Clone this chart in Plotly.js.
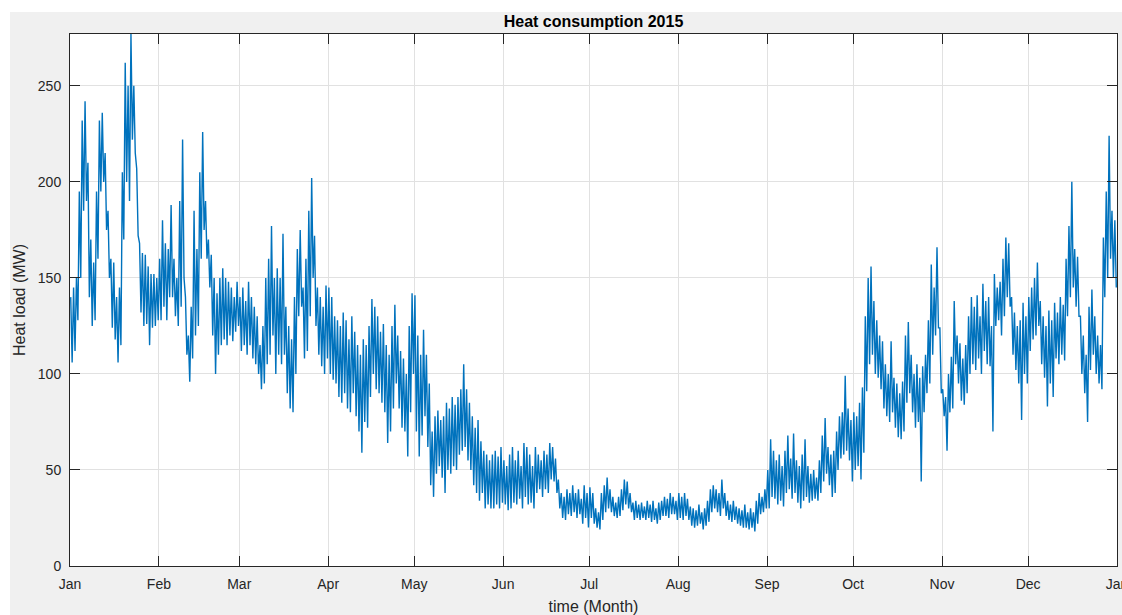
<!DOCTYPE html>
<html>
<head>
<meta charset="utf-8">
<script src="https://cdn.plot.ly/plotly-3.0.1.min.js"></script>
<style>
  html, body { margin: 0; padding: 0; background: #ffffff; width: 1122px; height: 615px; overflow: hidden; }
  #chart { position: absolute; left: 10px; top: 12px; width: 1112px; height: 603px; }
</style>
</head>
<body>
<div id="chart"></div>
<script>
// Heat load (MW), two readings per day (daily high, daily low)
var jan = [140,106, 145,112, 150,128, 195,150, 232,185, 242,190, 210,140, 170,125, 158,128, 195,160,
           232,195, 236,200, 215,175, 185,150, 160,124, 158,118, 140,106, 145,115, 205,170, 262,200,
           250,190, 277,222, 250,215, 207,172, 168,132, 163,125, 162,126, 156,115, 152,124, 152,125, 150,128];
var feb = [160,128, 180,135, 168,128, 165,140, 188,140, 160,130, 150,125, 190,135, 222,150, 140,110,
           120,96, 135,108, 185,120, 165,125, 205,160, 226,175, 190,160, 170,145, 162,120, 150,100,
           142,110, 150,115, 155,118, 150,115, 148,120, 145,117, 140,122, 148,125];
var mar = [140,112, 145,115, 138,110, 148,115, 140,108, 135,105, 130,100, 115,92, 125,95, 150,105,
           160,110, 177,120, 150,100, 155,110, 150,105, 173,110, 135,90, 125,82, 118,80, 140,100,
           165,130, 175,135, 145,108, 160,112, 185,130, 202,150, 172,125, 145,110, 140,104, 135,100, 146,108];
var apr = [145,100, 140,97, 130,95, 128,88, 125,85, 132,90, 128,82, 118,80, 130,90, 122,78,
           115,70, 110,59, 118,75, 115,72, 125,88, 139,100, 135,92, 130,90, 122,85, 126,80,
           115,64, 110,70, 125,82, 136,95, 120,82, 112,72, 108,70, 100,57, 125,80, 142,100];
var may = [141,70, 120,57, 110,68, 123,78, 110,62, 95,42, 70,36, 78,48, 81,52, 76,46,
           78,38, 85,50, 82,48, 88,52, 84,50, 88,58, 92,60, 105,62, 92,55, 85,50,
           78,42, 72,38, 76,34, 65,38, 60,30, 58,32, 55,30, 58,30, 60,32, 57,30, 62,33];
var jun = [55,32, 52,29, 58,30, 62,33, 55,32, 60,35, 52,30, 64,36, 62,32, 58,33,
           52,30, 62,38, 58,40, 55,36, 60,40, 58,38, 64,45, 62,44, 56,38, 45,30,
           38,25, 36,24, 40,27, 38,26, 42,28, 38,25, 40,27, 35,22, 42,25, 38,20];
var jul = [41,25, 38,22, 30,20, 28,19, 38,24, 42,28, 46,30, 40,28, 36,26, 33,25,
           36,26, 40,29, 45,32, 44,30, 38,28, 33,24, 34,25, 32,24, 33,25, 31,24,
           34,25, 32,23, 34,24, 30,22, 33,24, 34,26, 36,26, 35,25, 38,27, 36,27, 34,24];
var aug = [38,25, 36,24, 38,26, 35,24, 31,21, 30,20, 29,21, 32,22, 28,19, 30,21,
           34,23, 40,28, 42,30, 40,28, 38,26, 45,30, 38,26, 34,24, 32,23, 34,24,
           31,22, 30,21, 29,20, 32,20, 28,19, 30,20, 28,18, 34,22, 38,27, 36,28, 40,30];
var sep = [50,30, 66,36, 60,35, 55,32, 58,34, 52,31, 60,38, 68,40, 56,35, 69,38,
           55,33, 52,30, 58,34, 66,36, 52,33, 48,34, 50,35, 46,34, 55,38, 68,44,
           77,48, 62,42, 58,36, 60,38, 70,50, 78,56, 80,58, 99,60, 82,55, 76,44];
var oct = [80,50, 78,52, 85,45, 93,59, 130,91, 150,105, 156,110, 138,100, 128,98, 120,92,
           117,82, 105,78, 100,75, 117,80, 98,72, 95,67, 90,66, 96,70, 120,85, 127,90,
           110,80, 100,72, 105,75, 98,44, 104,80, 110,90, 128,95, 157,110, 145,120, 166,124, 124,90];
var nov = [92,78, 88,60, 100,80, 109,82, 138,105, 120,95, 116,86, 108,84, 115,90, 130,100,
           140,105, 135,102, 141,108, 130,100, 147,112, 138,105, 140,104, 125,70, 152,125, 145,128,
           148,120, 160,130, 171,140, 168,135, 140,110, 132,102, 125,95, 128,76, 137,100, 130,95];
var dec = [140,112, 145,118, 150,120, 158,125, 138,105, 130,98, 125,83, 133,95, 128,88, 137,108,
           132,105, 140,110, 136,107, 160,130, 177,140, 200,145, 165,135, 161,130, 130,100, 120,90,
           110,75, 135,102, 144,110, 130,100, 120,95, 115,92, 171,140, 195,150, 224,160, 185,150, 180,145];

var monthLabels = ['Jan','Feb','Mar','Apr','May','Jun','Jul','Aug','Sep','Oct','Nov','Dec','Jan'];
var yTicks = [0, 50, 100, 150, 200, 250];

var load = [].concat(jan, feb, mar, apr, may, jun, jul, aug, sep, oct, nov, dec);
var t0 = Date.UTC(2015, 0, 1);
var halfDay = 12 * 3600 * 1000;
var times = load.map(function (v, i) { return t0 + i * halfDay + halfDay / 2; });
var monthTicks = monthLabels.map(function (m, i) { return Date.UTC(2015, i, 1); });

var trace = {
  x: times, y: load, type: 'scatter', mode: 'lines',
  line: { color: '#0072bd', width: 1.4 },
  hoverinfo: 'skip'
};

var axisCommon = {
  showline: true, linecolor: '#262626', linewidth: 1, mirror: 'ticks',
  ticks: 'inside', ticklen: 10, tickwidth: 1, tickcolor: '#262626',
  showgrid: true, gridcolor: '#e1e1e1', gridwidth: 1, zeroline: false,
  tickfont: { family: 'Liberation Sans, Arial, sans-serif', size: 14, color: '#262626' },
  ticklabelstandoff: 5, ticklabeloverflow: 'allow'
};

var layout = {
  width: 1112, height: 603,
  paper_bgcolor: '#f0f0f0', plot_bgcolor: '#ffffff',
  margin: { l: 60, r: 5, t: 22, b: 49 },
  showlegend: false,
  title: {
    text: '<b>Heat consumption 2015</b>',
    font: { family: 'Liberation Sans, Arial, sans-serif', size: 16, color: '#000000' },
    xref: 'paper', x: 0.5, xanchor: 'center',
    yref: 'container', y: 1 - 9 / 603, yanchor: 'middle'
  },
  xaxis: Object.assign({}, axisCommon, {
    type: 'date',
    range: [Date.UTC(2015, 0, 1), Date.UTC(2016, 0, 1)],
    tickmode: 'array', tickvals: monthTicks, ticktext: monthLabels,
    title: { text: 'time (Month)', standoff: 10,
             font: { family: 'Liberation Sans, Arial, sans-serif', size: 16, color: '#262626' } }
  }),
  yaxis: Object.assign({}, axisCommon, {
    range: [0, 277],
    tickmode: 'array', tickvals: yTicks, ticktext: yTicks.map(String),
    title: { text: 'Heat load (MW)', standoff: 8,
             font: { family: 'Liberation Sans, Arial, sans-serif', size: 16, color: '#262626' } }
  })
};

Plotly.newPlot('chart', [trace], layout, { displayModeBar: false, staticPlot: true });
</script>
</body>
</html>
